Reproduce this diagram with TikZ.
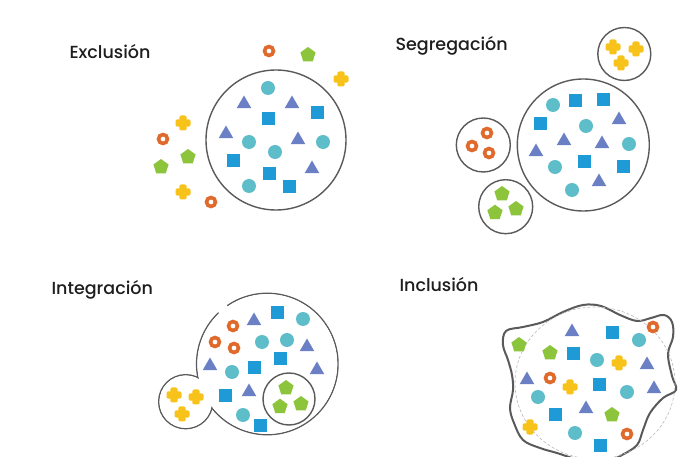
\documentclass[tikz,border=0pt]{standalone}
\usepackage{fontspec}
\setmainfont{Poppins}[UprightFont={* Medium}]
\usetikzlibrary{shapes.geometric}

\definecolor{tealc}{RGB}{93,189,200}
\definecolor{bluec}{RGB}{30,155,215}
\definecolor{tric}{RGB}{107,128,196}
\definecolor{orangec}{RGB}{224,106,44}
\definecolor{yellowc}{RGB}{247,194,26}
\definecolor{greenc}{RGB}{140,196,60}
\definecolor{linec}{RGB}{90,90,90}
\definecolor{textc}{RGB}{30,30,30}

\tikzset{
  tdot/.style={circle, fill=tealc, minimum size=14pt, inner sep=0pt},
  bsq/.style={rectangle, fill=bluec, minimum size=13pt, inner sep=0pt},
  tri/.style={regular polygon, regular polygon sides=3, fill=tric, minimum size=17pt, inner sep=0pt},
  pent/.style={regular polygon, regular polygon sides=5, fill=greenc, minimum size=16pt, inner sep=0pt},
  ringmark/.style={circle, draw=orangec, line width=3.6pt, minimum size=9pt, inner sep=0pt},
  group/.style={circle, draw=linec, line width=1.4pt, inner sep=0pt},
  title/.style={anchor=base west, text=textc, font=\fontsize{17.5}{20}\selectfont},
  pics/plus/.style={code={
    \fill[yellowc, rounded corners=2pt] (-7.5pt,-3.7pt) rectangle (7.5pt,3.7pt);
    \fill[yellowc, rounded corners=2pt] (-3.7pt,-7.5pt) rectangle (3.7pt,7.5pt);
  }}
}

\begin{document}
\begin{tikzpicture}[x=1pt,y=-1pt]
\useasboundingbox[fill=white] (0,0) rectangle (689,457);
\clip (0,0) rectangle (689,457);

% ---------- Exclusión ----------
\node[title] (t-exc) at (66,58.3) {Exclusión};
\node[group, minimum size=140pt] (exc) at (276,140) {};
\foreach \p [count=\i] in {(268,88),(249,142),(323,142),(275,152),(249,186)}
  \node[tdot] (exc-c\i) at \p {};
\foreach \p [count=\i] in {(317,113),(268,119),(233,161),(269,174),(289,187)}
  \node[bsq] (exc-s\i) at \p {};
\foreach \p [count=\i] in {(244,104),(292,104),(226,134),(298,140),(312,169)}
  \node[tri] (exc-t\i) at \p {};
\foreach \p [count=\i] in {(269,51),(163,139),(211,202)}
  \node[ringmark] (exc-r\i) at \p {};
\foreach \p [count=\i] in {(308,55),(188,157),(161,167)}
  \node[pent] (exc-p\i) at \p {};
\foreach \p in {(341,79),(183,123),(183,192)}
  \pic at \p {plus};

% ---------- Segregación ----------
\node[title] (t-seg) at (392,51) {Segregación};
\node[group, minimum size=132pt] (seg) at (583.3,145) {};
\node[group, minimum size=53pt] (seg-y) at (624.3,54) {};
\node[group, minimum size=54pt] (seg-o) at (483.3,145) {};
\node[group, minimum size=54pt] (seg-g) at (505.7,206.7) {};
\foreach \p [count=\i] in {(553,105),(586,126),(629,144),(555,167),(572,190)}
  \node[tdot] (seg-c\i) at \p {};
\foreach \p [count=\i] in {(575,101),(603,100),(540,124),(584,162),(623,167)}
  \node[bsq] (seg-s\i) at \p {};
\foreach \p [count=\i] in {(619,120),(564,141),(602,144),(536,152),(599,182)}
  \node[tri] (seg-t\i) at \p {};
\foreach \p [count=\i] in {(487,133),(472,146),(489,153)}
  \node[ringmark] (seg-r\i) at \p {};
\foreach \p [count=\i] in {(502,194),(495,212.7),(516,209)}
  \node[pent] (seg-p\i) at \p {};
\foreach \p in {(613,47),(636,49),(621,63)}
  \pic at \p {plus};

% ---------- Integración ----------
\node[title] (t-int) at (48,295) {Integración};
% outer outline: large circle (with a small opening) joined to a small lobe
\draw[linec, line width=1.4pt] (267.3,364) ++(235.5:70.7) arc[start angle=235.5, end angle=586.5, radius=70.7];
\draw[linec, line width=1.4pt] (185.7,401.7) circle[radius=27];
\fill[white] (267.3,364) circle[radius=69.9];
\fill[white] (185.7,401.7) circle[radius=26.2];
\node[group, minimum size=52pt] (int-g) at (289,399) {};
\foreach \p [count=\i] in {(303,319),(262,342),(287,340),(232,372),(243,415)}
  \node[tdot] (int-c\i) at \p {};
\foreach \p [count=\i] in {(277,313),(280,359),(254,368),(225,396),(260,426)}
  \node[bsq] (int-s\i) at \p {};
\foreach \p [count=\i] in {(254,321),(307,347),(210,366),(317,370),(249,392)}
  \node[tri] (int-t\i) at \p {};
\foreach \p [count=\i] in {(233,326),(215,342),(234,348)}
  \node[ringmark] (int-r\i) at \p {};
\foreach \p [count=\i] in {(286,388),(280,406.7),(301,404)}
  \node[pent] (int-p\i) at \p {};
\foreach \p in {(174,395),(196,397),(182,414)}
  \pic at \p {plus};

% ---------- Inclusión ----------
\node[title] (t-inc) at (396,291.7) {Inclusión};
\draw[linec, line width=2pt, fill=white] plot[smooth cycle, tension=0.6] coordinates {
  (506,331) (523,327) (543,322) (563,312) (583,305) (601,306) (620,315)
  (637,321) (651,318) (664,315) (672,322) (673,337) (668,354) (672,376)
  (676,390) (663,398) (650,413) (643,430) (637,445) (622,455) (605,462)
  (580,460) (557,453) (540,448) (523,440) (514,423) (510,408) (513,390)
  (512,375) (508,360) (503,345)};
\draw[gray!55, line width=0.6pt, dash pattern=on 3pt off 2pt] (595,383) ellipse[x radius=80, y radius=76];
\foreach \p [count=\i] in {(639,340),(597,360),(538,397),(627,392),(575,433)}
  \node[tdot] (inc-c\i) at \p {};
\foreach \p [count=\i] in {(612,333),(573,354),(599,385),(555,415),(600,445)}
  \node[bsq] (inc-s\i) at \p {};
\foreach \p [count=\i] in {(572,332),(647,365),(527,380),(654,389),(586,409)}
  \node[tri] (inc-t\i) at \p {};
\foreach \p [count=\i] in {(653,327),(550,378),(627,434)}
  \node[ringmark] (inc-r\i) at \p {};
\foreach \p [count=\i] in {(519,345),(550,353),(612,415)}
  \node[pent] (inc-p\i) at \p {};
\foreach \p in {(619,363),(570,387),(530,427)}
  \pic at \p {plus};
\end{tikzpicture}
\end{document}
